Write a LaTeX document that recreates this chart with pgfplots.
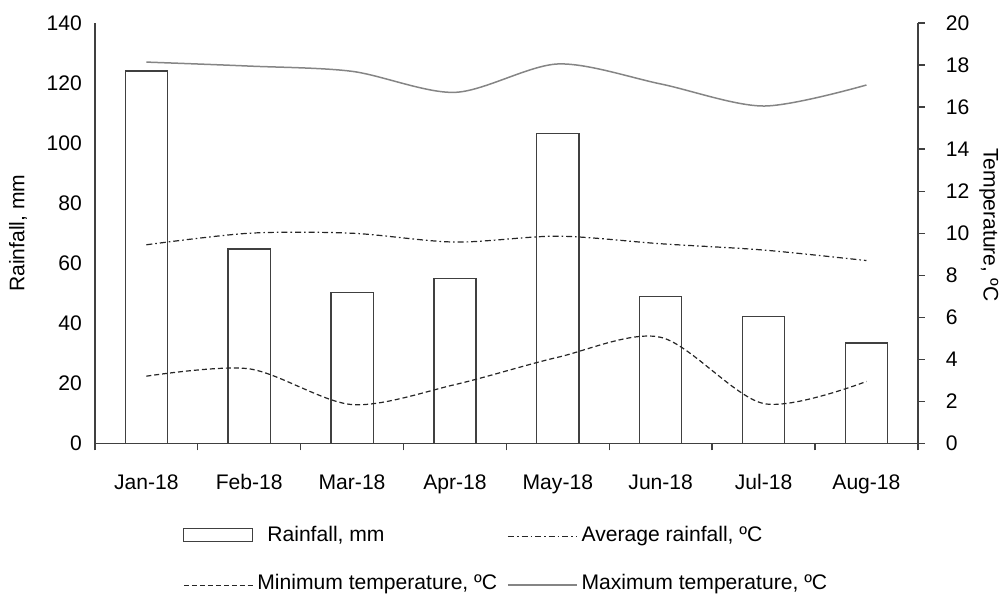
\documentclass[border=0pt]{standalone}
\usepackage{fontspec}
\setmainfont{Liberation Sans}
\usepackage{pgfplots}
\pgfplotsset{compat=1.18}
\usetikzlibrary{calc}

\definecolor{edge}{HTML}{404040}
\definecolor{maxline}{HTML}{858585}

% Rainfall and temperatures, Jan-18 .. Aug-18 (x = 0..7)
\pgfplotstableread{
x rain avg tmin tmax
0 124.0 9.45 3.20 18.14
1 64.7  10.0 3.55 17.95
2 50.3  10.0 1.85 17.70
3 55.0  9.58 2.80 16.70
4 103.3 9.86 4.10 18.05
5 49.0  9.50 5.05 17.10
6 42.3  9.20 1.90 16.05
7 33.5  8.70 2.95 17.05
}\weather

\begin{document}
\begin{tikzpicture}[font=\fontsize{10.6}{12.5}\selectfont]
\begin{axis}[
    name=main,
    scale only axis,
    width=412bp, height=210.5bp,
    xmin=-0.5, xmax=7.5,
    ymin=0, ymax=140,
    axis x line*=bottom,
    axis y line*=left,
    axis line style={draw=edge, line width=0.65bp},
    xtick={0,...,7},
    xticklabels={Jan-18,Feb-18,Mar-18,Apr-18,May-18,Jun-18,Jul-18,Aug-18},
    minor xtick={-0.5,0.5,...,7.5},
    ytick={0,20,...,140},
    major tick length=0pt,
    minor tick length=3.5bp,
    tick align=outside,
    tick style={draw=edge, line width=0.65bp},
    major tick style={draw=none},
    xticklabel style={anchor=north, text height=8bp, text depth=2bp, yshift=-11.5bp},
    yticklabel style={xshift=-3bp},
    /pgf/number format/assume math mode=true,
    ylabel={Rainfall, mm},
    ylabel style={at={($(rel axis cs:0,0.5)+(-38.5bp,0bp)$)}, anchor=center},
    bar width=0.41,
]
\addplot[ybar, fill=white, draw=edge, line width=0.65bp] table[x=x, y=rain] {\weather};
\end{axis}

\begin{axis}[
    scale only axis,
    width=412bp, height=210.5bp,
    xmin=-0.5, xmax=7.5,
    ymin=0, ymax=20,
    axis x line=none,
    axis y line*=right,
    axis line style={draw=edge, line width=0.65bp},
    ytick={0,2,...,20},
    tick align=outside,
    major tick length=3.5bp,
    tick style={draw=edge, line width=0.65bp},
    yticklabel style={xshift=7bp},
    /pgf/number format/assume math mode=true,
    ylabel={Temperature, ºC},
    ylabel style={at={($(rel axis cs:1,0.52)+(35.5bp,0bp)$)}, anchor=center, rotate=180},
    legend columns=2,
    legend cell align=left,
    legend image code/.code={
        \path[draw=none, fill=none] (0bp,-3.5bp) rectangle (34.5bp,3.5bp);
        \draw[#1] (0bp,-1bp) -- (34.5bp,-1bp);},
    legend style={
        at={(rel axis cs:0,0)}, anchor=north west,
        xshift=41bp, yshift=-37bp,
        draw=none, fill=none,
        row sep=11bp,
        nodes={inner sep=2bp},
        /tikz/every even column/.append style={column sep=3bp},
    },
]
\addlegendimage{legend image code/.code={
    \path[draw=none, fill=none] (0bp,-3.5bp) rectangle (34.5bp,3.5bp);
    \draw[fill=white, draw=edge, line width=0.65bp] (0bp,-3.25bp) rectangle (34.5bp,3.25bp);}}
\addlegendentry{\hspace{5bp}Rainfall, mm}
\addplot[smooth, draw=black!85, line width=0.6bp,
    dash pattern=on 3bp off 1.5bp on 0.8bp off 1.5bp] table[x=x, y=avg] {\weather};
\addlegendentry{Average rainfall, ºC}
\addplot[smooth, draw=black!85, line width=0.6bp,
    dash pattern=on 2.5bp off 1.5bp] table[x=x, y=tmin] {\weather};
\addlegendentry{Minimum temperature, ºC}
\addplot[smooth, draw=maxline, line width=0.75bp] table[x=x, y=tmax] {\weather};
\addlegendentry{Maximum temperature, ºC}
\end{axis}

\path (main.south west) ++(-47.5bp,-71bp) rectangle ++(502.5bp,293bp);
\end{tikzpicture}
\end{document}
